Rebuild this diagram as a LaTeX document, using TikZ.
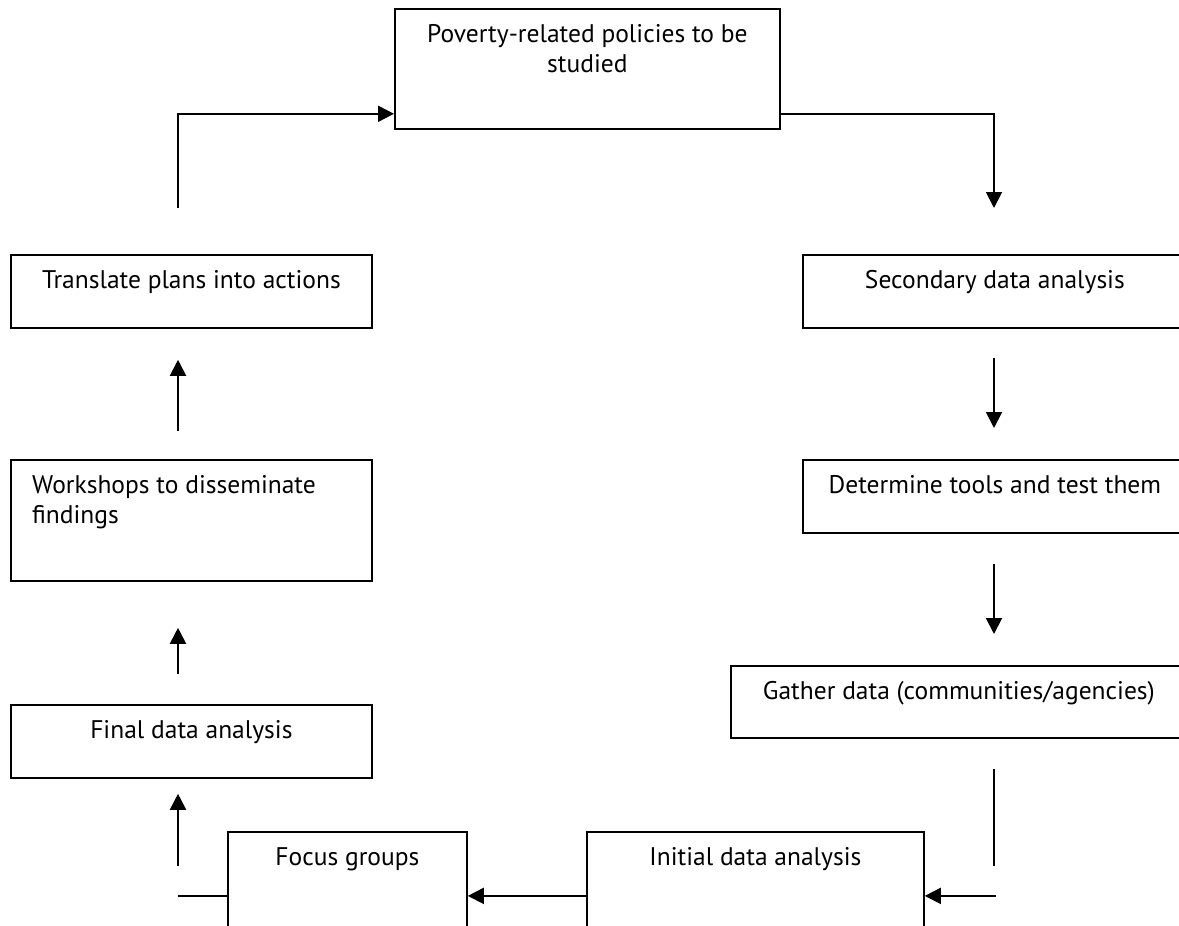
\documentclass[tikz,border=0pt]{standalone}
\usepackage{fontspec}
\setmainfont{PT Sans}
\usetikzlibrary{arrows.meta,calc}
\begin{document}
\begin{tikzpicture}[x=1pt,y=-1pt,
  box/.style={draw=black,line width=1.8pt,rectangle,inner sep=0pt,anchor=north west},
  lbl/.style={anchor=base,inner sep=0pt,font=\fontsize{25.5}{30}\selectfont},
  conn/.style={line width=1.9pt,draw=black},
  arr/.style={conn,-{Triangle[length=16pt,width=16pt]}}]
\useasboundingbox (0,0) rectangle (1179,926);
\clip (0,0) rectangle (1179,926);
% boxes
\node[box,minimum width=385pt,minimum height=120pt] (top) at (394,8) {};
\node[box,minimum width=361pt,minimum height=73pt] (tra) at (10,254) {};
\node[box,minimum width=361pt,minimum height=121pt] (wor) at (10,459) {};
\node[box,minimum width=361pt,minimum height=73pt] (fin) at (10,704) {};
\node[box,minimum width=384pt,minimum height=73pt] (sec) at (802,254) {};
\node[box,minimum width=384pt,minimum height=73pt] (det) at (802,459) {};
\node[box,minimum width=456pt,minimum height=72pt] (gat) at (730,665) {};
\node[box,minimum width=337pt,minimum height=128pt] (ini) at (586,831) {};
\node[box,minimum width=239pt,minimum height=128pt] (foc) at (227,831) {};
% texts
\node[lbl] (ttop1) at ($(top.north)+(0,34)$) {Poverty-related policies to be};
\node[lbl] (ttop2) at ($(top.north)+(0,64)$) {studied};
\node[lbl] (ttra) at ($(tra.north)+(0,34)$) {Translate plans into actions};
\node[lbl,anchor=base west] (twor1) at ($(wor.north west)+(22,34)$) {Workshops to disseminate};
\node[lbl,anchor=base west] (twor2) at ($(wor.north west)+(22,64)$) {findings};
\node[lbl] (tfin) at ($(fin.north)+(0,34)$) {Final data analysis};
\node[lbl] (tsec) at ($(sec.north)+(0,34)$) {Secondary data analysis};
\node[lbl] (tdet) at ($(det.north)+(0,34)$) {Determine tools and test them};
\node[lbl] (tgat) at ($(gat.north)+(0,34)$) {Gather data (communities/agencies)};
\node[lbl] (tini) at ($(ini.north)+(0,34)$) {Initial data analysis};
\node[lbl] (tfoc) at ($(foc.north)+(0,34)$) {Focus groups};
% free ends
\coordinate (c1) at ($(tra.north west)+(168,-46)$);
\coordinate (c2) at ($(sec.north west)+(192,-46)$);
\coordinate (s1) at ($(sec.south west)+(192,29)$);
\coordinate (s2) at ($(det.north west)+(192,-31)$);
\coordinate (d1) at ($(det.south west)+(192,30)$);
\coordinate (d2) at ($(gat.north west)+(264,-31)$);
\coordinate (g1) at ($(gat.south west)+(264,30)$);
\coordinate (g2) at ($(gat.south west)+(264,127)$);
\coordinate (g3) at ($(ini.east)+(71,0)$);
\coordinate (f1) at ($(foc.west)+(-49,0)$);
\coordinate (f2) at ($(fin.south west)+(168,87)$);
\coordinate (f3) at ($(fin.south west)+(168,15)$);
\coordinate (w1) at ($(fin.north west)+(168,-30)$);
\coordinate (w2) at ($(wor.south west)+(168,46)$);
\coordinate (t1) at ($(tra.south west)+(168,102)$);
\coordinate (t2) at ($(tra.south west)+(168,31)$);
% connectors
\draw[arr] (c1) |- ([yshift=16pt]top.south west);
\draw[arr] ([yshift=16pt]top.south east) -| (c2);
\draw[arr] (s1) -- (s2);
\draw[arr] (d1) -- (d2);
\draw[conn] (g1) -- (g2);
\draw[arr] (g3) -- (ini.east);
\draw[arr] (ini.west) -- (foc.east);
\draw[conn] (foc.west) -- (f1);
\draw[arr] (f2) -- (f3);
\draw[arr] (w1) -- (w2);
\draw[arr] (t1) -- (t2);
\end{tikzpicture}
\end{document}
